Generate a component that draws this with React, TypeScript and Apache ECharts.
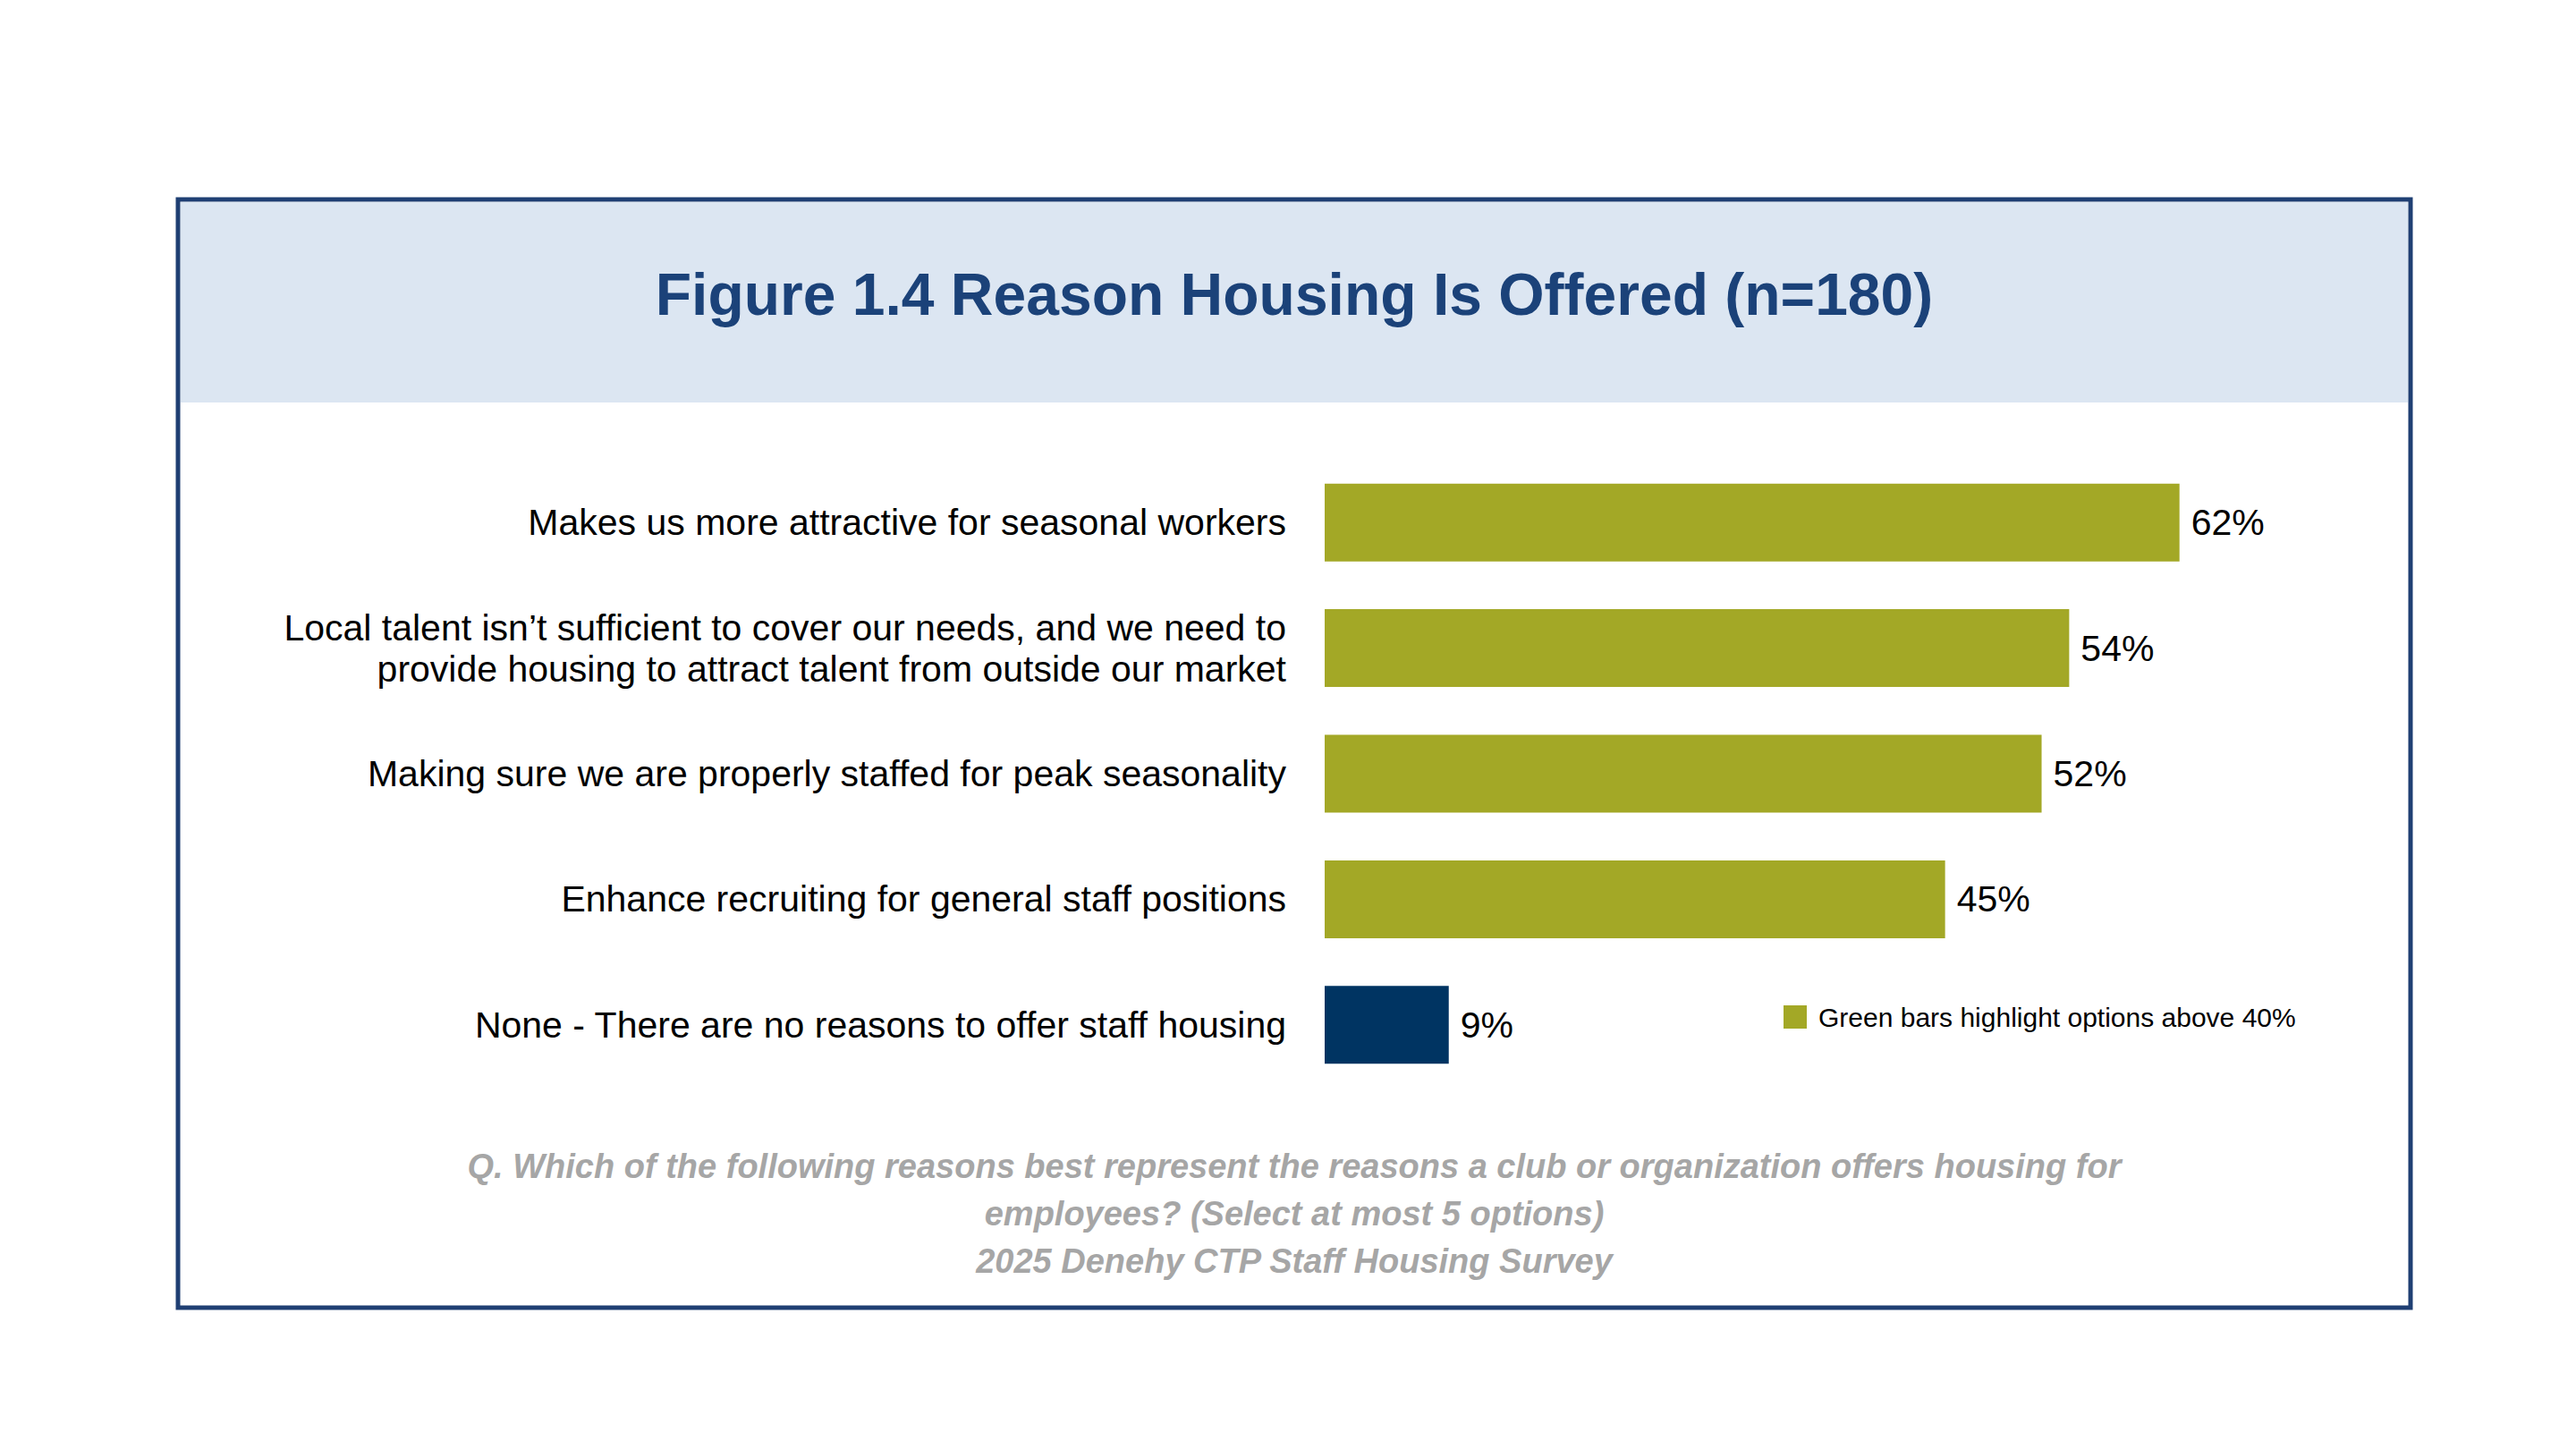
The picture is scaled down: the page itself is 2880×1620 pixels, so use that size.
import React, { useEffect, useRef } from "react";
import * as echarts from "echarts";

const categories = [
  "Makes us more attractive for seasonal workers",
  "Local talent isn\u2019t sufficient to cover our needs, and we need to\nprovide housing to attract talent from outside our market",
  "Making sure we are properly staffed for peak seasonality",
  "Enhance recruiting for general staff positions",
  "None - There are no reasons to offer staff housing",
];
const values = [62, 54, 52, 45, 9];
const highlightThreshold = 40;
const titleText = "Figure 1.4 Reason Housing Is Offered (n=180)";
const legendText = "Green bars highlight options above 40%";
const footnoteLines = [
  "Q. Which of the following reasons best represent the reasons a club or organization offers housing for",
  "employees? (Select at most 5 options)",
  "2025 Denehy CTP Staff Housing Survey",
];

const GREEN = "#A3A826";
const NAVY = "#003462";
const BORDER = "#1F3F73";
const TITLE = "#1B4279";
const FONT = "'Liberation Sans', Arial, sans-serif";

export default function App() {
  const ref = useRef<HTMLDivElement>(null);
  useEffect(() => {
    document.body.style.margin = "0";
    if (!ref.current) return;
    const chart = echarts.init(ref.current, null, { renderer: "svg" });
    chart.setOption({
      animation: false,
      backgroundColor: "#ffffff",
      textStyle: { fontFamily: FONT },
      grid: { left: 1481, top: 514, width: 1079, height: 702, containLabel: false },
      xAxis: { type: "value", min: 0, max: 70, show: false },
      yAxis: {
        type: "category",
        inverse: true,
        data: categories,
        axisLine: { show: false },
        axisTick: { show: false },
        splitLine: { show: false },
        axisLabel: {
          margin: 43,
          fontSize: 41,
          lineHeight: 46,
          color: "#000000",
          fontFamily: FONT,
        },
      },
      legend: {
        show: true,
        left: 1989,
        top: 1117,
        itemWidth: 26,
        itemHeight: 26,
        selectedMode: false,
        data: [{ name: legendText, icon: "rect", itemStyle: { color: GREEN } }],
        textStyle: { fontSize: 30, color: "#000000", fontFamily: FONT, padding: [0, 0, 0, 8] },
      },
      series: [
        {
          name: legendText,
          type: "bar",
          barWidth: 87,
          data: values.map((v) => ({
            value: v,
            itemStyle: { color: v > highlightThreshold ? GREEN : NAVY },
          })),
          itemStyle: { color: GREEN },
          label: {
            show: true,
            position: "right",
            distance: 13,
            formatter: "{c}%",
            fontSize: 41,
            color: "#000000",
            fontFamily: FONT,
          },
        },
      ],
      graphic: [
        {
          type: "rect",
          z: -10,
          shape: { x: 202, y: 226, width: 2490, height: 224 },
          style: { fill: "#DCE6F2" },
          silent: true,
        },
        {
          type: "rect",
          z: 10,
          shape: { x: 199, y: 223, width: 2496, height: 1239 },
          style: { fill: "none", stroke: BORDER, lineWidth: 5 },
          silent: true,
        },
        {
          type: "text",
          z: 11,
          x: 1447,
          y: 329,
          style: {
            text: titleText,
            fill: TITLE,
            fontSize: 66,
            fontWeight: "bold",
            fontFamily: FONT,
            textAlign: "center",
            textVerticalAlign: "middle",
          },
        },
        {
          type: "text",
          z: 11,
          x: 1447,
          y: 1357,
          style: {
            text: footnoteLines.join("\n"),
            fill: "#A6A6A6",
            fontSize: 38,
            lineHeight: 53,
            fontWeight: "bold",
            fontStyle: "italic",
            fontFamily: FONT,
            textAlign: "center",
            textVerticalAlign: "middle",
          },
        },
      ],
    });
    return () => chart.dispose();
  }, []);
  return <div ref={ref} style={{ width: 2880, height: 1620 }} />;
}
